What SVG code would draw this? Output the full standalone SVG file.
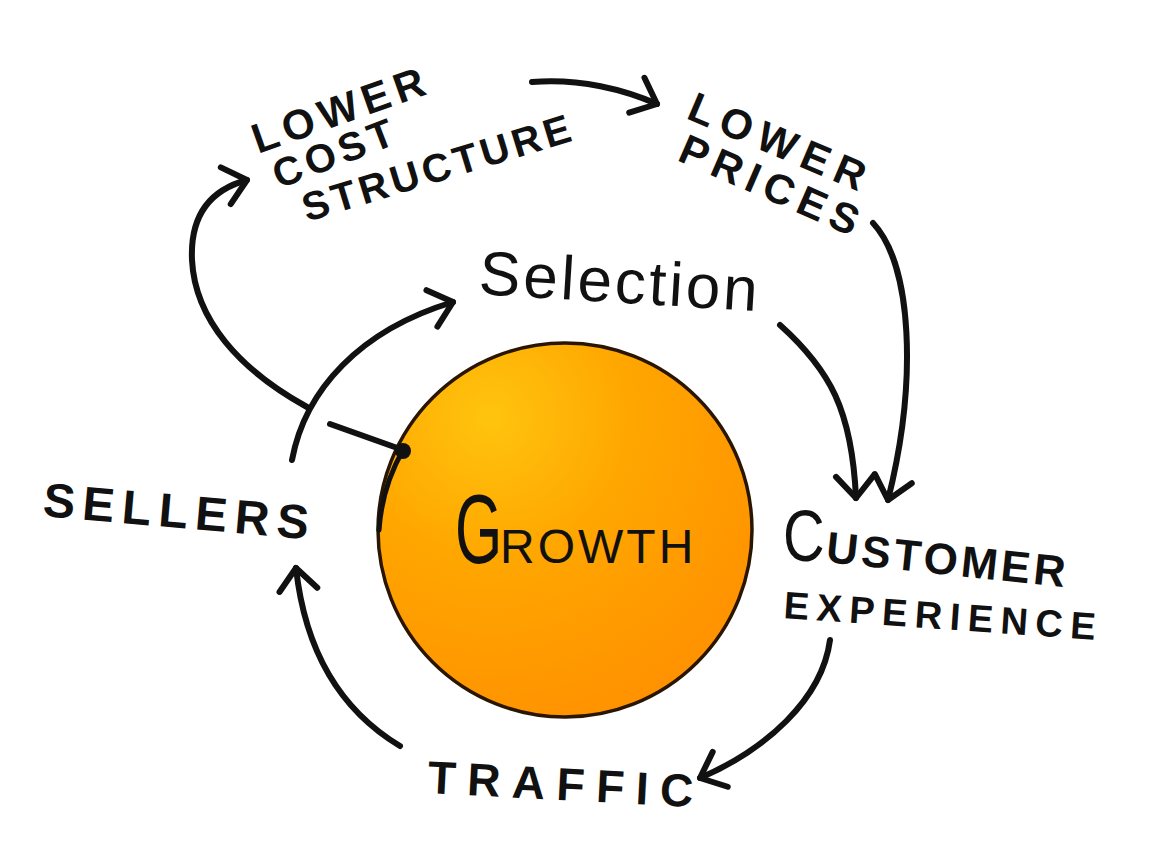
<svg xmlns="http://www.w3.org/2000/svg" width="1166" height="860" viewBox="0 0 1166 860">
  <defs>
    <radialGradient id="orb" cx="0.3" cy="0.2" r="0.85">
      <stop offset="0" stop-color="#FFC40E"/>
      <stop offset="0.45" stop-color="#FFA600"/>
      <stop offset="1" stop-color="#FF9200"/>
    </radialGradient>
    <marker id="chev" viewBox="-30 -24 36 48" refX="0" refY="0" markerWidth="36" markerHeight="48" markerUnits="userSpaceOnUse" orient="auto" overflow="visible">
      <path d="M -22 -19 L 0 0 L -22 19" fill="none" stroke="#111" stroke-width="6" stroke-linecap="round" stroke-linejoin="round"/>
    </marker>
    <style>
      .lbl { font-family: "Liberation Sans", Arial, sans-serif; fill: #111; }
      .b { font-weight: bold; }
      .conn { fill: none; stroke: #111; stroke-width: 6; stroke-linecap: round; stroke-linejoin: round; }
      .arr { marker-end: url(#chev); }
    </style>
  </defs>
  <rect width="1166" height="860" fill="#ffffff"/>

  <g id="growth">
    <circle cx="565" cy="530" r="187" fill="url(#orb)" stroke="#2a1600" stroke-width="3.5"/>
    <path d="M 403 450 A 187 187 0 0 0 379 530" fill="none" stroke="#111" stroke-width="5" stroke-linecap="round"/>
    <circle cx="403" cy="451" r="8" fill="#111"/>
    <text class="lbl" transform="translate(455,563) scale(0.62,1)" font-size="98">G</text>
    <text class="lbl" x="500" y="563" font-size="48" letter-spacing="3">ROWTH</text>
  </g>

  <g id="lower-cost-structure">
    <text class="lbl b" transform="translate(258,154) rotate(-19.5)" font-size="42" letter-spacing="6">LOWER</text>
    <text class="lbl b" transform="translate(279,189) rotate(-21)" font-size="40" letter-spacing="5">COST</text>
    <text class="lbl b" transform="translate(307,222) rotate(-17)" font-size="40" letter-spacing="4">STRUCTURE</text>
  </g>

  <g id="lower-prices">
    <text class="lbl b" transform="translate(685,118) rotate(23)" font-size="42" letter-spacing="8">LOWER</text>
    <text class="lbl b" transform="translate(676,160) rotate(23.5)" font-size="42" letter-spacing="7">PRICES</text>
  </g>

  <g id="selection">
    <text class="lbl" transform="translate(478,294) rotate(3.5)" font-size="62" letter-spacing="3">Selection</text>
  </g>

  <g id="sellers">
    <text class="lbl b" transform="translate(42,516) rotate(5)" font-size="48" letter-spacing="7.5">SELLERS</text>
  </g>

  <g id="customer-experience">
    <text class="lbl" transform="translate(783,561) scale(0.8,1)" font-size="72">C</text>
    <text class="lbl b" transform="translate(825,562) rotate(6)" font-size="44" letter-spacing="3.5">USTOMER</text>
    <text class="lbl b" transform="translate(783,618) rotate(4)" font-size="38" letter-spacing="7.5">EXPERIENCE</text>
  </g>

  <g id="traffic">
    <text class="lbl b" transform="translate(427,793) rotate(3)" font-size="46" letter-spacing="11.5">TRAFFIC</text>
  </g>

  <g id="connectors">
    <path class="conn arr" d="M 532 82 C 580 78, 625 90, 657 104"/>
    <path class="conn arr" d="M 873 223 C 912 265, 918 380, 888 500"/>
    <path class="conn arr" d="M 780 325 C 830 370, 852 410, 856 498"/>
    <path class="conn arr" d="M 830 640 C 822 700, 765 750, 700 778"/>
    <path class="conn arr" d="M 400 746 C 340 710, 305 650, 296 568"/>
    <path class="conn arr" d="M 292 460 C 305 390, 360 330, 453 302"/>
    <path class="conn" d="M 403 450 L 330 424"/>
    <path class="conn arr" d="M 307 407 C 240 370, 195 320, 192 260 C 190 215, 210 190, 247 180"/>
  </g>
</svg>
